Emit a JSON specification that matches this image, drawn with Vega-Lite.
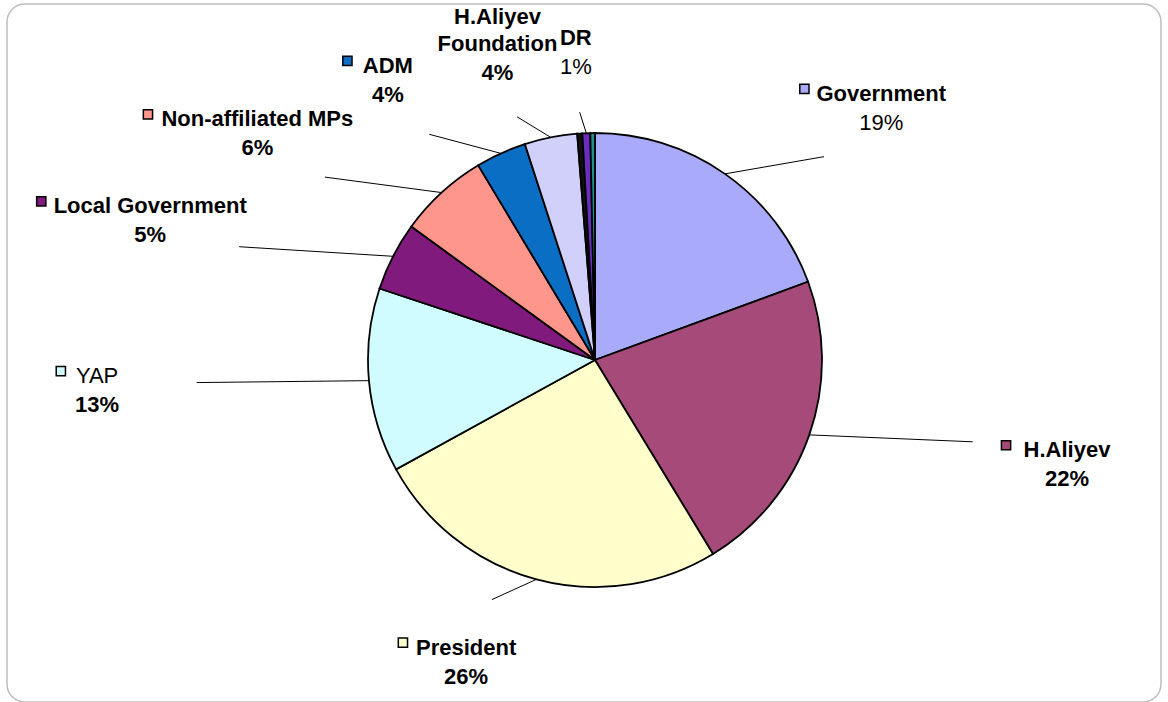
{
  "$schema": "https://vega.github.io/schema/vega-lite/v6.json",
  "width": 1168,
  "height": 702,
  "autosize": {"type": "fit", "contains": "padding"},
  "padding": {"left": 7, "top": 4, "right": 7, "bottom": 0},
  "background": "white",
  "config": {
    "view": {"stroke": "#BDBDBD", "strokeWidth": 1.5, "cornerRadius": 18},
    "text": {"font": "Liberation Sans", "fontSize": 22, "color": "black"}
  },
  "data": {
    "values": [
      {"idx": 1, "name": "Government", "value": 19.4, "pct": "19%"},
      {"idx": 2, "name": "H.Aliyev", "value": 21.9, "pct": "22%"},
      {"idx": 3, "name": "President", "value": 25.7, "pct": "26%"},
      {"idx": 4, "name": "YAP", "value": 13.1, "pct": "13%"},
      {"idx": 5, "name": "Local Government", "value": 4.9, "pct": "5%"},
      {"idx": 6, "name": "Non-affiliated MPs", "value": 6.4, "pct": "6%"},
      {"idx": 7, "name": "ADM", "value": 3.6, "pct": "4%"},
      {"idx": 8, "name": "H.Aliyev Foundation", "value": 3.75, "pct": "4%"},
      {"idx": 9, "name": "Other", "value": 0.36},
      {"idx": 10, "name": "DR", "value": 0.56, "pct": "1%"},
      {"idx": 11, "name": "Other 2", "value": 0.33}
    ]
  },
  "transform": [
    {"joinaggregate": [{"op": "sum", "field": "value", "as": "total"}]},
    {"window": [{"op": "sum", "field": "value", "as": "cum"}], "sort": [{"field": "idx"}], "frame": [null, 0]},
    {"calculate": "2*PI*(datum.cum - datum.value/2)/datum.total", "as": "mid"},
    {"calculate": "500*sin(datum.mid)", "as": "lx"},
    {"calculate": "310*cos(datum.mid)", "as": "ly"},
    {"calculate": "227*sin(datum.mid)", "as": "ex"},
    {"calculate": "227*cos(datum.mid)", "as": "ey"},
    {"calculate": "0.8*datum.lx", "as": "mx"},
    {"calculate": "0.8*datum.ly", "as": "my"},
    {"calculate": "length(replace(datum.name, regexp('[^mMGADHNW]', 'g'), ''))", "as": "nW"},
    {"calculate": "length(replace(datum.name, regexp('[^filtr. -]', 'g'), ''))", "as": "nT"},
    {"calculate": "22*(0.77*datum.nW + 0.3*datum.nT + 0.58*(length(datum.name) - datum.nW - datum.nT))", "as": "w"},
    {"calculate": "datum.lx - datum.w/2 - 15", "as": "sx"},
    {"calculate": "datum.ly + 17", "as": "sy"}
  ],
  "layer": [
    {
      "mark": {"type": "arc", "outerRadius": 227, "stroke": "black", "strokeWidth": 1.8},
      "encoding": {
        "theta": {"field": "value", "type": "quantitative", "stack": true},
        "order": {"field": "idx", "type": "quantitative"},
        "color": {
          "field": "name",
          "type": "nominal",
          "scale": {
            "domain": ["Government", "H.Aliyev", "President", "YAP", "Local Government", "Non-affiliated MPs", "ADM", "H.Aliyev Foundation", "Other", "DR", "Other 2"],
            "range": ["#AAAAFA", "#A64A7A", "#FFFFCC", "#D0FCFF", "#801A7C", "#FF968C", "#0A6FC4", "#D0D0FA", "#111111", "#6A2DBE", "#1F8F8F"]
          },
          "legend": null
        },
        "x": {"datum": 0, "type": "quantitative", "scale": {"domain": [-588, 566], "nice": false, "zero": false}, "axis": null},
        "y": {"datum": 0, "type": "quantitative", "scale": {"domain": [-342, 356], "nice": false, "zero": false}, "axis": null}
      }
    },
    {
      "transform": [{"filter": "isValid(datum.pct)"}],
      "mark": {"type": "rule", "color": "black", "strokeWidth": 1},
      "encoding": {
        "x": {"field": "ex", "type": "quantitative"},
        "y": {"field": "ey", "type": "quantitative"},
        "x2": {"field": "mx"},
        "y2": {"field": "my"}
      }
    },
    {
      "transform": [{"filter": "isValid(datum.pct) && datum.name !== 'DR' && datum.name !== 'H.Aliyev Foundation'"}],
      "mark": {"type": "point", "shape": "square", "filled": true, "size": 85, "stroke": "black", "strokeWidth": 1.5, "opacity": 1},
      "encoding": {
        "x": {"field": "sx", "type": "quantitative"},
        "y": {"field": "sy", "type": "quantitative"},
        "color": {"field": "name", "type": "nominal", "legend": null}
      }
    },
    {
      "transform": [{"filter": "isValid(datum.pct) && datum.name !== 'YAP' && datum.name !== 'H.Aliyev Foundation'"}],
      "mark": {"type": "text", "fontWeight": "bold", "baseline": "bottom", "align": "center"},
      "encoding": {
        "x": {"field": "lx", "type": "quantitative"},
        "y": {"field": "ly", "type": "quantitative"},
        "text": {"field": "name"}
      }
    },
    {
      "transform": [{"filter": "datum.name === 'YAP'"}],
      "mark": {"type": "text", "fontWeight": "normal", "baseline": "bottom", "align": "center"},
      "encoding": {
        "x": {"field": "lx", "type": "quantitative"},
        "y": {"field": "ly", "type": "quantitative"},
        "text": {"field": "name"}
      }
    },
    {
      "transform": [{"filter": "datum.name === 'H.Aliyev Foundation'"}],
      "mark": {"type": "text", "fontWeight": "bold", "baseline": "bottom", "align": "center", "lineBreak": " ", "lineHeight": 27, "dy": -27},
      "encoding": {
        "x": {"field": "lx", "type": "quantitative"},
        "y": {"field": "ly", "type": "quantitative"},
        "text": {"field": "name"}
      }
    },
    {
      "transform": [{"filter": "isValid(datum.pct) && datum.name !== 'Government' && datum.name !== 'DR'"}],
      "mark": {"type": "text", "fontWeight": "bold", "baseline": "top", "align": "center", "dy": 7},
      "encoding": {
        "x": {"field": "lx", "type": "quantitative"},
        "y": {"field": "ly", "type": "quantitative"},
        "text": {"field": "pct"}
      }
    },
    {
      "transform": [{"filter": "datum.name === 'Government' || datum.name === 'DR'"}],
      "mark": {"type": "text", "fontWeight": "normal", "baseline": "top", "align": "center", "dy": 7},
      "encoding": {
        "x": {"field": "lx", "type": "quantitative"},
        "y": {"field": "ly", "type": "quantitative"},
        "text": {"field": "pct"}
      }
    }
  ]
}
